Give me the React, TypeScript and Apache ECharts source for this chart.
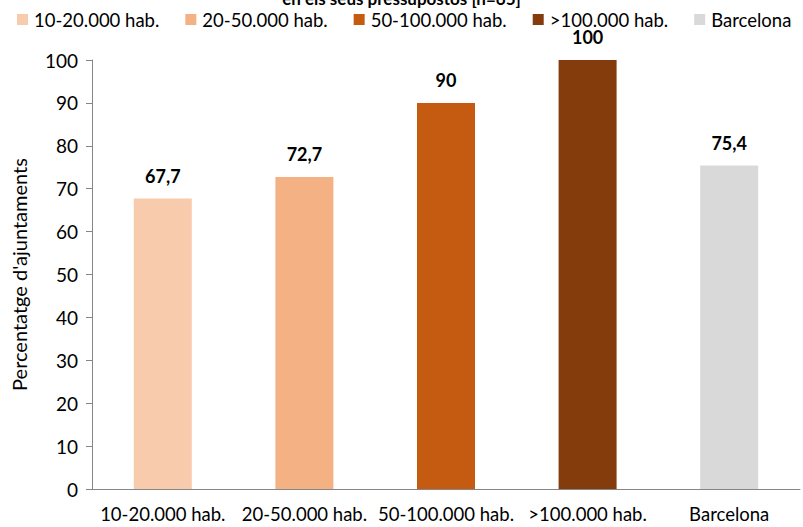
import React, { useEffect, useRef } from "react";
import * as echarts from "echarts";

const categories = ["10-20.000 hab.", "20-50.000 hab.", "50-100.000 hab.", ">100.000 hab.", "Barcelona"];
const values = [67.7, 72.7, 90, 100, 75.4];
const colors = ["#F8CBAD", "#F4B183", "#C55A11", "#843C0C", "#D9D9D9"];
const yTicks = [0, 10, 20, 30, 40, 50, 60, 70, 80, 90, 100];
const titleText = "en els seus pressupostos [n=65]";
const yName = "Percentatge d'ajuntaments";

const FONT = "Lato";

export default function App() {
  const ref = useRef<HTMLDivElement>(null);
  useEffect(() => {
    const chart = echarts.init(ref.current!, null, { renderer: "svg" });
    const series = categories.map((c, i) => ({
      name: c,
      type: "bar",
      barWidth: 58,
      barGap: "-100%",
      itemStyle: { color: colors[i] },
      label: {
        show: true,
        position: "top",
        distance: 14,
        fontFamily: FONT,
        fontWeight: "bold",
        fontSize: 18,
        color: "#000",
        formatter: (p: any) => String(p.value).replace(".", ","),
      },
      data: categories.map((_, j) => (j === i ? values[i] : null)),
    }));
    chart.setOption({
      animation: false,
      textStyle: { fontFamily: FONT },
      title: {
        text: titleText,
        left: "center",
        top: -15,
        textStyle: { fontFamily: FONT, fontWeight: "bold", fontSize: 17, color: "#000" },
      },
      legend: {
        data: categories,
        left: 12,
        top: 5,
        itemWidth: 11,
        itemHeight: 11,
        itemGap: 26,
        icon: "rect",
        textStyle: { fontFamily: FONT, fontSize: 18.5, color: "#000", padding: [0, 0, 0, 1] },
      },
      grid: { left: 92, right: 3, top: 60, bottom: 38, containLabel: false },
      xAxis: {
        type: "category",
        data: categories,
        axisLine: { lineStyle: { color: "#868686", width: 1 } },
        axisTick: { show: false },
        axisLabel: { fontFamily: FONT, fontSize: 18.5, color: "#000", margin: 15, interval: 0 },
      },
      yAxis: {
        type: "value",
        min: yTicks[0],
        max: yTicks[yTicks.length - 1],
        interval: 10,
        name: yName,
        nameLocation: "middle",
        nameGap: 63,
        nameTextStyle: { fontFamily: FONT, fontSize: 20, color: "#000" },
        axisLine: { show: true, lineStyle: { color: "#868686" } },
        axisTick: { show: true, length: 6, lineStyle: { color: "#868686" } },
        splitLine: { show: false },
        axisLabel: { fontFamily: FONT, fontSize: 19, color: "#000", margin: 14 },
      },
      series,
    });
    return () => chart.dispose();
  }, []);
  return (
    <div
      ref={ref}
      style={{ position: "absolute", left: 0, top: 0, width: 803, height: 527 }}
    />
  );
}
